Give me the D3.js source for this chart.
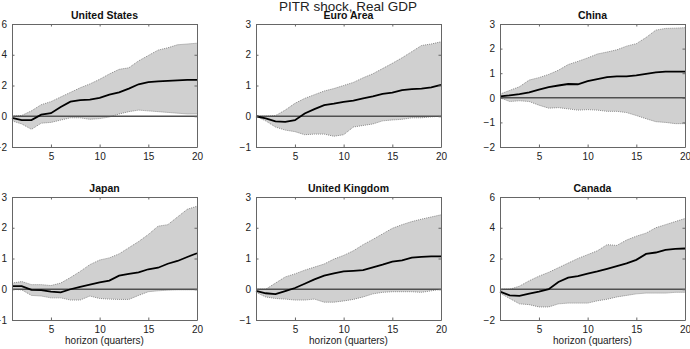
<!DOCTYPE html>
<meta charset="utf-8">
<html>
<head>
<style>
  body { margin: 0; background: #fff; }
  svg { font-family: "Liberation Sans", Arial, sans-serif; }
</style>
</head>
<body>
<div id="chart"></div>
<script src="https://d3js.org/d3.v7.min.js"></script>
<script>
// horizons 1..20
var horizon = d3.range(1, 21);

var countries = ["United States", "Euro Area", "China", "Japan", "United Kingdom", "Canada"];

var usMedian = [-0.1,-0.25,-0.25,0.1,0.2,0.6,0.95,1.05,1.08,1.2,1.4,1.55,1.8,2.08,2.22,2.27,2.3,2.33,2.37,2.36];
var usUpper  = [0,0.05,0.35,0.75,0.95,1.25,1.55,1.85,2.1,2.4,2.75,3.05,3.15,3.6,3.95,4.3,4.45,4.65,4.7,4.75];
var usLower  = [-0.3,-0.5,-0.85,-0.45,-0.4,-0.25,-0.1,-0.1,-0.2,-0.15,-0.05,0.15,0.3,0.4,0.35,0.3,0.25,0.2,0.15,0.15];

var euMedian = [0,-0.07,-0.17,-0.18,-0.13,0.09,0.23,0.36,0.41,0.47,0.51,0.58,0.65,0.73,0.77,0.85,0.88,0.9,0.94,1.02];
var euUpper  = [0,0,0.02,0.2,0.42,0.58,0.7,0.82,0.9,1.0,1.1,1.25,1.38,1.55,1.72,1.9,2.1,2.3,2.35,2.42];
var euLower  = [0,-0.15,-0.35,-0.45,-0.5,-0.6,-0.58,-0.58,-0.65,-0.6,-0.35,-0.3,-0.25,-0.15,-0.12,-0.1,-0.05,-0.05,-0.02,0];

var cnMedian = [0.06,0.1,0.15,0.22,0.33,0.43,0.5,0.56,0.55,0.68,0.76,0.84,0.87,0.87,0.91,0.97,1.03,1.06,1.06,1.06];
var cnUpper  = [0.15,0.3,0.45,0.72,0.82,0.95,1.12,1.35,1.48,1.62,1.78,1.86,1.95,2.1,2.2,2.45,2.75,2.82,2.83,2.85];
var cnLower  = [0,-0.15,-0.12,-0.15,-0.3,-0.42,-0.4,-0.45,-0.5,-0.48,-0.5,-0.55,-0.55,-0.6,-0.72,-0.85,-0.97,-1.0,-1.05,-1.05];

var jpMedian = [0.1,0.1,-0.02,-0.03,-0.08,-0.1,0,0.08,0.15,0.22,0.28,0.44,0.5,0.55,0.65,0.7,0.83,0.92,1.05,1.17];
var jpUpper  = [0.2,0.25,0.15,0.15,0.12,0.2,0.38,0.58,0.8,0.95,1.02,1.15,1.35,1.55,1.78,2.05,2.1,2.35,2.6,2.7];
var jpLower  = [0,-0.02,-0.2,-0.22,-0.28,-0.28,-0.35,-0.35,-0.22,-0.3,-0.32,-0.33,-0.33,-0.2,-0.08,-0.05,-0.03,-0.02,-0.02,-0.02];

var ukMedian = [-0.05,-0.13,-0.16,-0.06,0.04,0.18,0.32,0.44,0.52,0.58,0.6,0.62,0.71,0.8,0.9,0.94,1.03,1.05,1.07,1.07];
var ukUpper  = [0,0,0.2,0.4,0.5,0.62,0.72,0.82,0.98,1.1,1.25,1.45,1.62,1.8,1.98,2.1,2.2,2.28,2.35,2.42];
var ukLower  = [-0.1,-0.25,-0.3,-0.32,-0.35,-0.35,-0.32,-0.42,-0.42,-0.38,-0.33,-0.25,-0.15,-0.1,-0.08,-0.08,-0.08,-0.1,-0.05,0];

var caMedian = [-0.15,-0.4,-0.43,-0.28,-0.15,0,0.47,0.75,0.86,1.01,1.16,1.33,1.5,1.68,1.91,2.3,2.39,2.56,2.62,2.65];
var caUpper  = [0,0,0.2,0.55,0.85,1.1,1.4,1.7,2.0,2.25,2.5,2.9,2.85,3.2,3.45,3.65,4.0,4.2,4.4,4.6];
var caLower  = [-0.25,-0.6,-0.95,-1.0,-1.15,-1.15,-0.95,-0.9,-0.9,-0.9,-0.75,-0.65,-0.5,-0.4,-0.3,-0.25,-0.25,-0.25,-0.2,-0.2];

var xTicks = [5, 10, 15, 20];
var yDomains = [[-2, 6], [-1, 3], [-2, 3], [-1, 3], [-1, 3], [-2, 6]];
var yTicks = [[-2,0,2,4,6], [-1,0,1,2,3], [-2,-1,0,1,2,3], [-1,0,1,2,3], [-1,0,1,2,3], [-2,0,2,4,6]];

var medians = [usMedian, euMedian, cnMedian, jpMedian, ukMedian, caMedian];
var uppers  = [usUpper, euUpper, cnUpper, jpUpper, ukUpper, caUpper];
var lowers  = [usLower, euLower, cnLower, jpLower, ukLower, caLower];

var W = 690, H = 349;
var colLeft = [12, 256, 500], rowTop = [24, 197];
var pw = 185, ph = 123;

var svg = d3.select("#chart").append("svg")
    .attr("width", W)
    .attr("height", H);

svg.append("text")
    .attr("x", 348)
    .attr("y", 11)
    .attr("text-anchor", "middle")
    .style("font-size", "13.5px")
    .style("fill", "#222")
    .text("PITR shock, Real GDP");

countries.forEach(function(name, i) {
  var col = i % 3, row = Math.floor(i / 3);
  var g = svg.append("g")
      .attr("transform", "translate(" + colLeft[col] + "," + rowTop[row] + ")");

  var x = d3.scaleLinear().domain([1, 20]).range([0, pw]);
  var y = d3.scaleLinear().domain(yDomains[i]).range([ph, 0]);

  var band = horizon.map(function(h, k) { return {h: h, lo: lowers[i][k], hi: uppers[i][k], m: medians[i][k]}; });

  // confidence band
  g.append("path")
      .datum(band)
      .attr("d", d3.area()
        .x(function(d) { return x(d.h); })
        .y0(function(d) { return y(d.lo); })
        .y1(function(d) { return y(d.hi); }))
      .style("fill", "#d0d0d0");

  ["hi", "lo"].forEach(function(key) {
    g.append("path")
        .datum(band)
        .attr("d", d3.line()
          .x(function(d) { return x(d.h); })
          .y(function(d) { return y(d[key]); }))
        .style("fill", "none")
        .style("stroke", "#8a8a8a")
        .style("stroke-width", 1)
        .style("stroke-dasharray", "1,1");
  });

  // zero line
  g.append("line")
      .attr("x1", 0).attr("x2", pw)
      .attr("y1", y(0)).attr("y2", y(0))
      .style("stroke", "#505050")
      .style("stroke-width", 1.5);

  // median
  g.append("path")
      .datum(band)
      .attr("d", d3.line()
        .x(function(d) { return x(d.h); })
        .y(function(d) { return y(d.m); }))
      .style("fill", "none")
      .style("stroke", "#000")
      .style("stroke-width", 1.8);

  // axes, matlab style with ticks inside on all sides
  var axStyle = function(sel) {
    sel.select(".domain").style("stroke", "#666");
    sel.selectAll(".tick line").style("stroke", "#666");
    sel.selectAll("text").style("font-size", "10px").style("fill", "#222")
       .style("font-family", "Liberation Sans, Arial, sans-serif");
  };

  g.append("g")
      .attr("transform", "translate(0," + ph + ")")
      .call(d3.axisBottom(x).tickValues(xTicks).tickSizeInner(-2.5).tickSizeOuter(0).tickPadding(6).tickFormat(d3.format("d")))
      .call(axStyle);
  g.append("g")
      .call(d3.axisTop(x).tickValues(xTicks).tickSizeInner(-2.5).tickSizeOuter(0).tickFormat(""))
      .call(axStyle);
  g.append("g")
      .call(d3.axisLeft(y).tickValues(yTicks[i]).tickSizeInner(-2.5).tickSizeOuter(0).tickPadding(5).tickFormat(d3.format("d")))
      .call(axStyle);
  g.append("g")
      .attr("transform", "translate(" + pw + ",0)")
      .call(d3.axisRight(y).tickValues(yTicks[i]).tickSizeInner(-2.5).tickSizeOuter(0).tickFormat(""))
      .call(axStyle);

  g.append("text")
      .attr("x", pw / 2)
      .attr("y", -5)
      .attr("text-anchor", "middle")
      .style("font-size", "10.5px")
      .style("font-weight", "bold")
      .style("fill", "#111")
      .text(name);

  if (row === 1) {
    g.append("text")
        .attr("x", pw / 2)
        .attr("y", ph + 24)
        .attr("text-anchor", "middle")
        .style("font-size", "10px")
        .style("fill", "#222")
        .text("horizon (quarters)");
  }
});
</script>
</body>
</html>
